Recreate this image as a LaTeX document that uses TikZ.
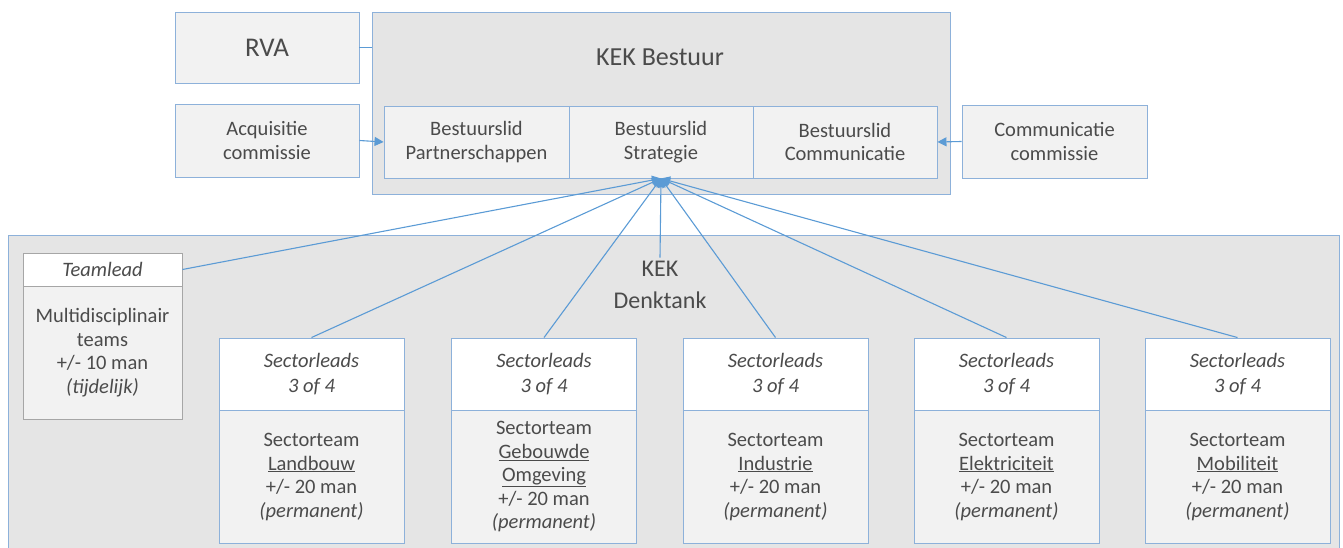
\documentclass[tikz,border=0pt]{standalone}
\usepackage{fontspec}
\setmainfont{Carlito}
\usetikzlibrary{arrows.meta}
\definecolor{bord}{RGB}{141,177,218}
\definecolor{lin}{RGB}{91,155,213}
\definecolor{txt}{RGB}{75,75,75}
\definecolor{bgouter}{RGB}{229,229,229}
\definecolor{bginner}{RGB}{242,242,242}
\definecolor{gbord}{RGB}{166,166,166}
\tikzset{
  box/.style={draw=bord, line width=0.9pt, fill=bginner, text=txt, align=center, inner sep=0pt,
    font=\fontsize{20.5}{23.5}\selectfont},
  hdr/.style={box, fill=white, font=\fontsize{20.5}{25}\selectfont\itshape},
  panel/.style={draw=bord, line width=0.9pt, fill=bgouter},
  conn/.style={draw=lin, line width=1.1pt},
  arr/.style={conn, -{Triangle[width=9pt,length=9pt]}}
}
\begin{document}
\begin{tikzpicture}[x=1pt,y=-1pt]
\useasboundingbox (0,0) rectangle (1343,548);
% panels
\node[panel, minimum width=578pt, minimum height=182pt, inner sep=0pt] (bestuur) at (661,103) {};
\node[panel, minimum width=1331pt, minimum height=340pt, inner sep=0pt] (denk) at (673.5,405) {};
\node[text=txt, font=\fontsize{26}{30}\selectfont] (bl) at (660,57) {KEK Bestuur};
\node[text=txt, align=center, font=\fontsize{24}{32}\selectfont] (dl) at (660,285) {KEK\\Denktank};
% top boxes
\node[box, minimum width=184pt, minimum height=71pt, font=\fontsize{27}{30}\selectfont] (rva) at (267,47.5) {RVA};
\node[box, minimum width=184pt, minimum height=73pt] (acq) at (267,140.5) {Acquisitie\\commissie};
\node[box, minimum width=185pt, minimum height=72pt] (b1) at (476.5,142) {Bestuurslid\\Partnerschappen};
\node[box, minimum width=184pt, minimum height=72pt] (b2) at (661,142) {Bestuurslid\\Strategie};
\node[box, minimum width=184pt, minimum height=72pt] (b3) at (845,142) {Bestuurslid\\Communicatie};
\node[box, minimum width=185pt, minimum height=73pt] (comm) at (1054.5,141.5) {Communicatie\\commissie};
% teamlead
\node[hdr, draw=gbord, minimum width=159pt, minimum height=33pt] (th) at (102.5,269.5) {Teamlead};
\node[box, draw=gbord, minimum width=159pt, minimum height=133pt] (tb) at (102.5,352.5) {Multidisciplinair\\teams\\+/- 10 man\\\textit{(tijdelijk)}};
% sectors
\foreach \i/\x/\name in {1/311.5/{\underline{Landbouw}},2/544/{\underline{Gebouwde}\\\underline{Omgeving}},3/775.5/{\underline{Industrie}},4/1006.5/{\underline{Elektriciteit}},5/1237.5/{\underline{Mobiliteit}}}{
  \node[hdr, minimum width=185pt, minimum height=72.5pt] (sh\i) at (\x,374.25) {Sectorleads\\3 of 4};
  \node[box, minimum width=185pt, minimum height=132.5pt] (sb\i) at (\x,476.75) {Sectorteam\\\name\\+/- 20 man\\\textit{(permanent)}};
}
% connectors
\draw[conn] (rva.east) -- (rva.east -| bestuur.west);
\draw[arr] (acq.east) -- (b1.west);
\draw[arr] (comm.west) -- (b3.east);
\draw[arr] (th.east) -- (b2.south);
\draw[arr] (dl.north) -- (b2.south);
\foreach \i in {1,...,5}{
  \draw[arr] (sh\i.north) -- (b2.south);
}
\end{tikzpicture}
\end{document}
